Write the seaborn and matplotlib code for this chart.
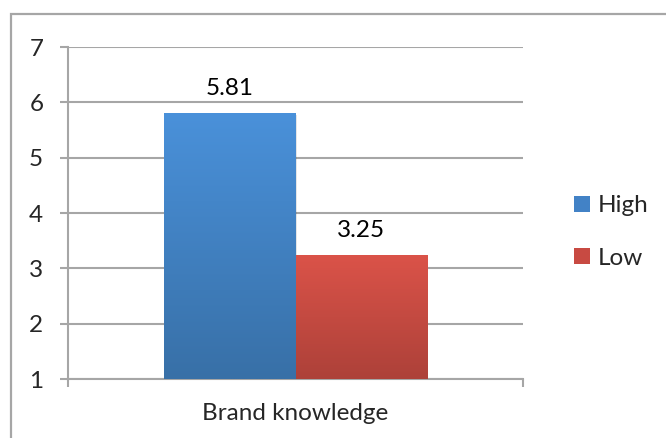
import numpy as np
import pandas as pd
import matplotlib
matplotlib.use("Agg")
import matplotlib.pyplot as plt
import seaborn as sns
from matplotlib.patches import Rectangle, Patch
from matplotlib.colors import LinearSegmentedColormap

# ---- data ----
categories = ["Brand knowledge"]
groups = ["High", "Low"]
values = [5.81, 3.25]
value_labels = ["5.81", "3.25"]
y_ticks = [1, 2, 3, 4, 5, 6, 7]

sns.set_theme(style="white")
plt.rcParams['font.family'] = ['Lato', 'DejaVu Sans']

W, H = 666, 438
FS = 17.5
GRAY = "#A6A6A6"

fig = plt.figure(figsize=(W / 100, H / 100), dpi=100)
fig.patch.set_facecolor("white")

# outer chart border (extends past right/bottom edge like the reference crop)
fig.patches.append(Rectangle((11 / W, -0.2), 1.2, 1 - 14 / H + 0.2,
                             transform=fig.transFigure, fill=False,
                             edgecolor=GRAY, lw=1.6))

ax = fig.add_axes([68 / W, 1 - 379 / H, (523 - 68) / W, (379 - 47) / H])

df = pd.DataFrame({"category": categories * len(groups),
                   "group": groups, "value": values})
mid_colors = {"High": "#4282C6", "Low": "#C84A42"}
grad = {"High": ("#4A91DA", "#3870A7"), "Low": ("#DB5349", "#AD4139")}

sns.barplot(data=df, x="category", y="value", hue="group",
            palette=mid_colors, width=0.576, gap=0, saturation=1,
            ax=ax, legend=False, zorder=3)

# gradient fill for each bar
for patch, g in zip(ax.patches, groups):
    x0 = patch.get_x()
    w = patch.get_width()
    h = patch.get_height()
    patch.set_edgecolor("none")
    cmap = LinearSegmentedColormap.from_list("g", [grad[g][1], grad[g][0]])
    img = ax.imshow(np.linspace(0, 1, 256).reshape(-1, 1), cmap=cmap,
                    extent=[x0, x0 + w, 1, h], origin="lower",
                    aspect="auto", zorder=3.5)
    img.set_clip_path(patch)

# subtle shadow behind bars
xs = [p.get_x() for p in ax.patches]
ws = [p.get_width() for p in ax.patches]
hs = [p.get_height() for p in ax.patches]
for x0, w, h in zip(xs, ws, hs):
    ax.add_patch(Rectangle((x0 + 0.004, 1), w, h - 1 - 0.04,
                           facecolor="#000000", alpha=0.10, lw=0,
                           zorder=2.8))

ax.set_xlim(-0.5, 0.5)
ax.set_ylim(1, 7)
ax.set_yticks(y_ticks)
ax.set_yticklabels([str(t) for t in y_ticks])

# value labels
for i, container in enumerate(ax.containers):
    ax.bar_label(container, labels=[value_labels[i]],
                 padding=10, fontsize=FS, color="black")

# grid & spines
ax.yaxis.grid(True, color=GRAY, lw=1.5, zorder=0)
ax.xaxis.grid(False)
ax.set_axisbelow(True)
for s in ["top", "right"]:
    ax.spines[s].set_visible(False)
for s in ["left", "bottom"]:
    ax.spines[s].set_color(GRAY)
    ax.spines[s].set_linewidth(1.5)

ax.tick_params(axis="y", which="major", direction="out", length=5.8,
               width=1.5, color=GRAY, labelsize=FS, pad=12, left=True)
ax.set_xticks([0])
ax.set_xticklabels(categories)
ax.tick_params(axis="x", which="major", length=0, labelsize=FS, pad=17)
ax.set_xticks([-0.5, 0.5], minor=True)
ax.tick_params(axis="x", which="minor", direction="out", length=5.8,
               width=1.5, color=GRAY, bottom=True)
ax.set_xlabel("")
ax.set_ylabel("")

# legend
handles = [Patch(facecolor=mid_colors[g], edgecolor="none") for g in groups]
fig.legend(handles, groups, loc="center left",
           bbox_to_anchor=(552 / W, 1 - 232 / H), frameon=False,
           fontsize=FS, handlelength=0.65, handleheight=0.65,
           handletextpad=0.35, labelspacing=1.3)

fig.savefig("out.png", dpi=100)
